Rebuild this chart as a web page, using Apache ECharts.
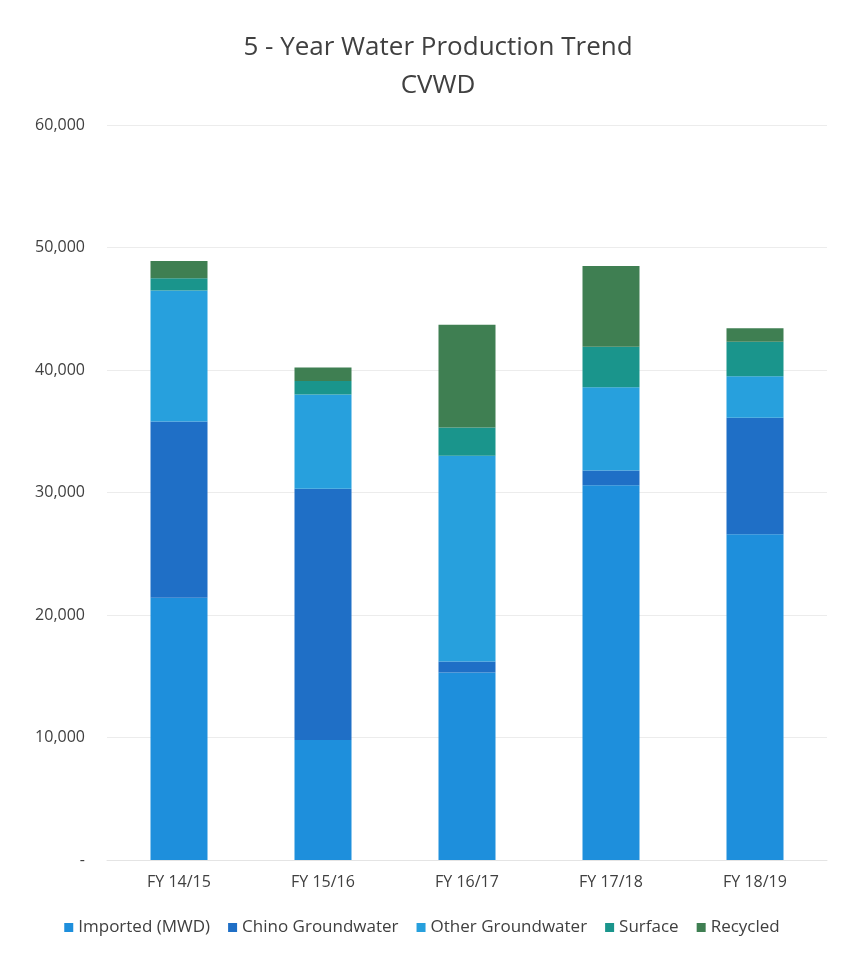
<!DOCTYPE html>
<html>
<head>
<meta charset="utf-8">
<script src="https://cdn.jsdelivr.net/npm/echarts@6/dist/echarts.min.js"></script>
<style>
  html, body { margin: 0; padding: 0; background: #fff; }
  #main { width: 844px; height: 956px; }
</style>
</head>
<body>
<div id="main"></div>
<script>
// fiscal years on the x axis
var years = ['FY 14/15', 'FY 15/16', 'FY 16/17', 'FY 17/18', 'FY 18/19'];

// acre-feet per source
var imported = [21400, 9800, 15300, 30600, 26600];
var chino = [14400, 20500, 900, 1200, 9500];
var otherGw = [10700, 7700, 16800, 6800, 3400];
var surface = [1000, 1100, 2300, 3300, 2800];
var recycled = [1400, 1100, 8400, 6600, 1100];

var seriesNames = ['Imported (MWD)', 'Chino Groundwater', 'Other Groundwater', 'Surface', 'Recycled'];
var seriesData = [imported, chino, otherGw, surface, recycled];
var colors = ['#1e8fdc', '#1f6fc6', '#27a0dd', '#1a958c', '#3f7f52'];

var chart = echarts.init(document.getElementById('main'));

var series = [];
for (var i = 0; i < seriesNames.length; i++) {
  series.push({
    name: seriesNames[i],
    type: 'bar',
    stack: 'total',
    barWidth: 57,
    data: seriesData[i]
  });
}

var option = {
  backgroundColor: '#fff',
  color: colors,
  animation: false,
  title: {
    text: '5 - Year Water Production Trend\nCVWD',
    left: 433,
    textAlign: 'center',
    top: 24,
    textStyle: {
      fontFamily: 'Open Sans',
      fontSize: 26,
      fontWeight: 'normal',
      color: '#404040',
      lineHeight: 38
    }
  },
  legend: {
    data: seriesNames,
    bottom: 15,
    left: 'center',
    icon: 'rect',
    itemWidth: 9,
    itemHeight: 9,
    itemGap: 18,
    textStyle: {
      fontFamily: 'Open Sans',
      fontSize: 17,
      color: '#404040'
    }
  },
  grid: {
    left: 107,
    right: 17,
    top: 125,
    bottom: 96
  },
  xAxis: {
    type: 'category',
    data: years,
    axisTick: { show: false },
    axisLine: { lineStyle: { color: '#e4e4e4' } },
    axisLabel: {
      margin: 14,
      fontFamily: 'Open Sans',
      fontSize: 16,
      color: '#404040'
    }
  },
  yAxis: {
    type: 'value',
    min: 0,
    max: 60000,
    interval: 10000,
    axisLine: { show: false },
    axisTick: { show: false },
    splitLine: { lineStyle: { color: '#ececec' } },
    axisLabel: {
      margin: 22,
      fontFamily: 'Open Sans',
      fontSize: 16,
      color: '#404040',
      formatter: function (v) {
        return v === 0 ? '-' : v.toLocaleString('en-US');
      }
    }
  },
  series: series
};

chart.setOption(option);
</script>
</body>
</html>
